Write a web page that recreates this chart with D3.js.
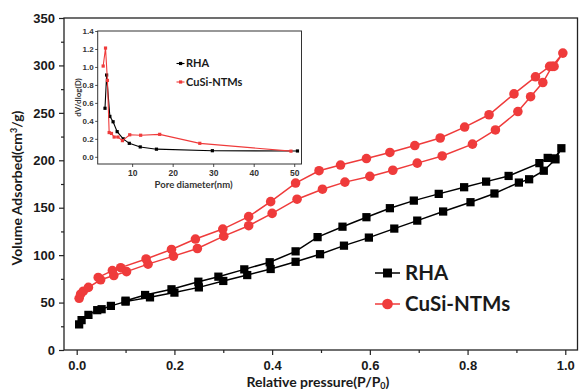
<!DOCTYPE html>
<html>
<head>
<meta charset="utf-8">
<script src="https://cdn.jsdelivr.net/npm/d3@7"></script>
<style>
  body { margin: 0; background: #fff; }
  svg { display: block; font-family: Lato, "Open Sans", sans-serif; }
</style>
</head>
<body>
<svg id="chart" width="579" height="392"></svg>
<script>
// main isotherm data (relative pressure, volume adsorbed)
const rhaAdsP = [0.005, 0.010, 0.024, 0.042, 0.051, 0.070, 0.100, 0.150, 0.200, 0.250, 0.300, 0.349, 0.397, 0.448, 0.498, 0.547, 0.598, 0.650, 0.697, 0.750, 0.806, 0.855, 0.905, 0.926, 0.956, 0.980, 0.992];
const rhaAdsV = [27, 31.5, 37, 42, 43, 46.5, 51, 55.5, 60.5, 66, 72.8, 79, 85.4, 93, 101, 110, 118.5, 128, 136.4, 146, 155.8, 165, 176.5, 180, 189, 201, 212.7];
const rhaDesP = [0.978, 0.964, 0.947, 0.884, 0.838, 0.793, 0.741, 0.690, 0.641, 0.593, 0.544, 0.493, 0.448, 0.395, 0.343, 0.290, 0.249, 0.194, 0.140, 0.100];
const rhaDesV = [202, 202.5, 197, 183.5, 177.5, 171.6, 164.6, 157.5, 149.5, 140, 130, 119, 104, 92.5, 85, 77.3, 72, 64, 58, 52];

const cuAdsP = [0.005, 0.008, 0.0135, 0.024, 0.049, 0.076, 0.102, 0.146, 0.198, 0.247, 0.301, 0.352, 0.400, 0.451, 0.503, 0.549, 0.600, 0.647, 0.697, 0.748, 0.810, 0.857, 0.903, 0.929, 0.954, 0.973, 0.995];
const cuAdsV = [54.5, 58.8, 62, 66, 74, 78.5, 82.6, 90.5, 99, 107, 120, 131, 144, 159, 169.5, 177, 183, 189.5, 197, 204.6, 217, 232, 251.4, 267, 282, 299, 313];
const cuDesP = [0.977, 0.968, 0.939, 0.895, 0.844, 0.794, 0.744, 0.692, 0.641, 0.593, 0.540, 0.496, 0.448, 0.397, 0.352, 0.299, 0.243, 0.194, 0.142, 0.090, 0.073, 0.044];
const cuDesV = [299, 299, 288, 270, 248, 235, 223.5, 215.5, 208.3, 201.8, 195, 189, 176, 156.4, 140.6, 127.5, 117, 106, 96, 86.8, 83.7, 76.5];

// inset pore size distribution
const poreRhaD = [3.3, 3.7, 4.5, 5.3, 6.3, 7.8, 9.3, 12, 16, 29.8, 50.8];
const poreRhaV = [0.54, 0.91, 0.45, 0.39, 0.28, 0.2, 0.15, 0.11, 0.085, 0.068, 0.065];
const poreCuD = [2.85, 3.43, 3.9, 4.33, 4.9, 5.56, 6.5, 7.6, 9.4, 12.1, 16.8, 26.7, 49.2];
const poreCuV = [1.01, 1.21, 0.85, 0.27, 0.26, 0.22, 0.22, 0.18, 0.245, 0.24, 0.25, 0.15, 0.063];

// tick values
const xTicks = [0, 0.2, 0.4, 0.6, 0.8, 1.0];
const xMinor = [0.1, 0.3, 0.5, 0.7, 0.9];
const yTicks = [0, 50, 100, 150, 200, 250, 300, 350];
const yMinor = [25, 75, 125, 175, 225, 275, 325];
const inXTicks = [10, 20, 30, 40, 50];
const inYTicks = [0, 0.2, 0.4, 0.6, 0.8, 1.0, 1.2, 1.4];

const svg = d3.select('#chart');
const red = '#ef3b3b';
const ink = '#1a1a1a';

// ---- main plot ----
const mL = 64, mR = 577.5, mT = 18, mB = 350;
const x = d3.scaleLinear().domain([-0.026, 1.025]).range([mL, mR]);
const y = d3.scaleLinear().domain([0, 350]).range([mB, mT]);

svg.append('rect')
    .attr('x', mL).attr('y', mT)
    .attr('width', mR - mL).attr('height', mB - mT)
    .attr('fill', 'none').attr('stroke', '#222').attr('stroke-width', 1.3);

function styleAxis(g, color, size) {
    g.select('.domain').remove();
    g.selectAll('line').attr('stroke', '#222').attr('stroke-width', 1.2);
    g.selectAll('text')
        .attr('fill', color)
        .style('font-size', size + 'px')
        .style('font-weight', 'bold');
}

svg.append('g')
    .attr('transform', `translate(0,${mB})`)
    .call(d3.axisBottom(x).tickValues(xTicks).tickSize(5).tickPadding(6).tickFormat(d3.format('.1f')))
    .call(g => styleAxis(g, ink, 13));
svg.append('g')
    .attr('transform', `translate(0,${mB})`)
    .call(d3.axisBottom(x).tickValues(xMinor).tickSize(3).tickFormat(''))
    .call(g => styleAxis(g, ink, 13));

svg.append('g')
    .attr('transform', `translate(${mL},0)`)
    .call(d3.axisLeft(y).tickValues(yTicks).tickSize(5).tickPadding(4))
    .call(g => styleAxis(g, ink, 13));
svg.append('g')
    .attr('transform', `translate(${mL},0)`)
    .call(d3.axisLeft(y).tickValues(yMinor).tickSize(3).tickFormat(''))
    .call(g => styleAxis(g, ink, 13));

// axis titles
const xt = svg.append('text')
    .attr('x', (x(0) + x(1)) / 2 - 3).attr('y', 386.5)
    .attr('text-anchor', 'middle')
    .attr('fill', ink)
    .style('font-size', '14px').style('font-weight', 'bold')
    .text('Relative pressure(P/P');
xt.append('tspan').attr('dy', 2.5).style('font-size', '9px').text('0');
xt.append('tspan').attr('dy', -2.5).text(')');

const yt = svg.append('text')
    .attr('transform', `translate(22,${(mT + mB) / 2 + 4}) rotate(-90)`)
    .attr('text-anchor', 'middle')
    .attr('fill', ink)
    .style('font-size', '14px').style('font-weight', 'bold')
    .text('Volume Adsorbed(cm');
yt.append('tspan').attr('dy', -5).style('font-size', '9px').text('3');
yt.append('tspan').attr('dy', 5).text('/g)');

// isotherm series: adsorption then desorption as one loop
const series = [
    { name: 'RHA', color: '#000', shape: 'square',
      p: rhaAdsP.concat(rhaDesP), v: rhaAdsV.concat(rhaDesV) },
    { name: 'CuSi-NTMs', color: red, shape: 'circle',
      p: cuAdsP.concat(cuDesP), v: cuAdsV.concat(cuDesV) }
];

const line = d3.line().x(d => x(d[0])).y(d => y(d[1]));

series.forEach(s => {
    const pts = s.p.map((p, i) => [p, s.v[i]]);
    svg.append('path')
        .datum(pts)
        .attr('d', line)
        .attr('fill', 'none')
        .attr('stroke', s.color)
        .attr('stroke-width', 1.5);
    const sym = d3.symbol()
        .type(s.shape === 'square' ? d3.symbolSquare : d3.symbolCircle)
        .size(s.shape === 'square' ? 68 : 72);
    svg.append('g').selectAll('path')
        .data(pts)
        .join('path')
        .attr('transform', d => `translate(${x(d[0])},${y(d[1])})`)
        .attr('d', sym)
        .attr('fill', s.color);
});

// main legend
const leg = svg.append('g');
series.forEach((s, i) => {
    const ly = 273 + i * 31;
    leg.append('line')
        .attr('x1', 375).attr('x2', 400).attr('y1', ly).attr('y2', ly)
        .attr('stroke', s.color).attr('stroke-width', 1.5);
    leg.append('path')
        .attr('transform', `translate(387.5,${ly})`)
        .attr('d', d3.symbol()
            .type(s.shape === 'square' ? d3.symbolSquare : d3.symbolCircle)
            .size(s.shape === 'square' ? 80 : 90))
        .attr('fill', s.color);
    leg.append('text')
        .attr('x', 405).attr('y', ly)
        .attr('dy', '0.36em')
        .attr('fill', ink)
        .style('font-size', '20.5px').style('font-weight', 'bold')
        .text(s.name);
});

// ---- inset ----
const iL = 97.7, iR = 301.5, iT = 31, iB = 164;
const ix = d3.scaleLinear().domain([1.5, 51.8]).range([iL, iR]);
const iy = d3.scaleLinear().domain([-0.08, 1.4]).range([iB, iT]);

svg.append('rect')
    .attr('x', iL).attr('y', iT)
    .attr('width', iR - iL).attr('height', iB - iT)
    .attr('fill', '#fff').attr('stroke', '#333').attr('stroke-width', 1);

svg.append('g')
    .attr('transform', `translate(0,${iB})`)
    .call(d3.axisBottom(ix).tickValues(inXTicks).tickSize(3).tickPadding(3))
    .call(g => styleAxis(g, '#333', 8.5))
    .call(g => g.selectAll('line').attr('stroke-width', 0.8));

svg.append('g')
    .attr('transform', `translate(${iL},0)`)
    .call(d3.axisLeft(iy).tickValues(inYTicks).tickSize(2.5).tickPadding(1.5).tickFormat(d3.format('.1f')))
    .call(g => styleAxis(g, '#333', 8))
    .call(g => g.selectAll('line').attr('stroke-width', 0.8));

svg.append('text')
    .attr('x', (iL + iR) / 2 - 6).attr('y', 188)
    .attr('text-anchor', 'middle')
    .attr('fill', '#333')
    .style('font-size', '9.5px').style('font-weight', 'bold')
    .text('Pore diameter(nm)');

svg.append('text')
    .attr('transform', `translate(81,${(iT + iB) / 2}) rotate(-90)`)
    .attr('text-anchor', 'middle')
    .attr('fill', '#333')
    .style('font-size', '8px').style('font-weight', 'bold')
    .text('dV/dlog(D)');

const inset = [
    { name: 'RHA', color: '#000', d: poreRhaD, v: poreRhaV },
    { name: 'CuSi-NTMs', color: red, d: poreCuD, v: poreCuV }
];
const iline = d3.line().x(d => ix(d[0])).y(d => iy(d[1]));

inset.forEach((s, k) => {
    const pts = s.d.map((dd, i) => [dd, s.v[i]]);
    svg.append('path')
        .datum(pts)
        .attr('d', iline)
        .attr('fill', 'none')
        .attr('stroke', s.color)
        .attr('stroke-width', 1.1);
    svg.append('g').selectAll('rect')
        .data(pts)
        .join('rect')
        .attr('x', d => ix(d[0]) - 1.6).attr('y', d => iy(d[1]) - 1.6)
        .attr('width', 3.2).attr('height', 3.2)
        .attr('fill', s.color);

    const ly = 63.5 + k * 18.5;
    svg.append('line')
        .attr('x1', 176.5).attr('x2', 184.5).attr('y1', ly).attr('y2', ly)
        .attr('stroke', s.color).attr('stroke-width', 1.1);
    svg.append('rect')
        .attr('x', 179).attr('y', ly - 1.6).attr('width', 3.2).attr('height', 3.2)
        .attr('fill', s.color);
    svg.append('text')
        .attr('x', 186).attr('y', ly).attr('dy', '0.36em')
        .attr('fill', ink)
        .style('font-size', '11px').style('font-weight', 'bold')
        .text(s.name);
});
</script>
</body>
</html>
